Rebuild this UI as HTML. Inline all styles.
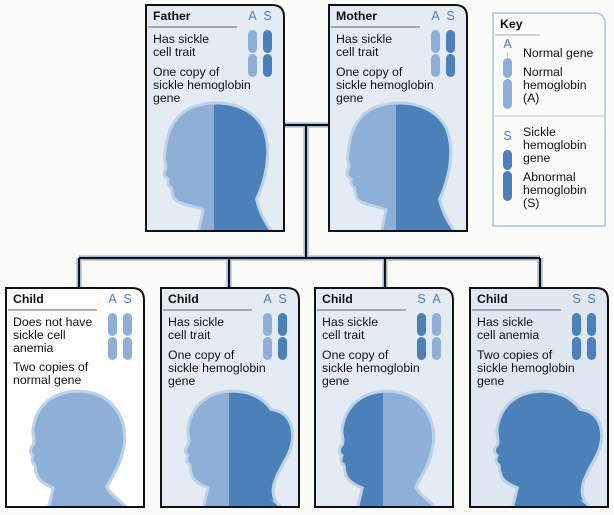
<!DOCTYPE html>
<html><head><meta charset="utf-8"><style>
html,body{margin:0;padding:0;background:#fbfbf7}
svg{display:block}
text{font-family:"Liberation Sans",sans-serif;font-size:12.3px;fill:#111}
.b{font-weight:bold}
.L{fill:#8fb0d6}.D{fill:#4b80b9}
.lt{fill:#4b80b9;font-size:12.5px;text-anchor:middle}
</style></head><body>
<svg width="614" height="515" viewBox="0 0 614 515">
<defs>
<path id="adult" d="M55,228 L60,205 C50,200 40,200 33,196 C27,192 30,185 27,182 C23,180 25,176 25,174 C21,172 19,170 22,166 C24,162 21,158 21,154 C23,140 23,118 45,106 C70,95 105,100 117,125 C127,150 117,180 110,195 C113,210 120,220 125,228 Z"/>
<path id="kid" d="M45,221 L50,200 C40,196 34,192 33,186 C31,182 33,178 30,176 C27,174 29,170 30,168 C26,166 26,162 30,158 C32,150 28,148 30,140 C34,115 55,104 78,106 C105,108 120,130 118,155 C116,175 105,190 100,200 C105,210 115,215 120,221 Z"/>
<path id="tail" d="M100,125 C128,118 140,145 124,172 C114,190 108,202 114,214 C96,206 94,186 100,168 Z"/>
<clipPath id="cA"><path d="M1,1 H127 Q139,1 139,13 V227 H1 Z"/></clipPath>
<clipPath id="cK"><path d="M1,1 H127 Q139,1 139,13 V220 H1 Z"/></clipPath>
</defs>

<g stroke="#bcd2ea" stroke-width="6" fill="none">
<path d="M284,125 H328 M306,125 V258 M79,258 H540 M79,258 V287 M229,258 V287 M385,258 V287 M540,258 V287"/>
</g>
<g stroke="#111" stroke-width="2.2" fill="none">
<path d="M284,125 H328 M306,125 V258 M79,258 H540 M79,258 V287 M229,258 V287 M385,258 V287 M540,258 V287"/>
</g>

<!-- Father -->
<g transform="translate(145,4)">
<path d="M1,1 H127 Q139,1 139,13 V227 H1 Z" fill="#e5ebf3"/>
<g clip-path="url(#cA)">
<use href="#adult" fill="none" stroke="#bcd2ea" stroke-width="6"/>
<clipPath id="fl"><rect x="0" y="0" width="69" height="228"/></clipPath>
<use href="#adult" class="D"/>
<use href="#adult" class="L" clip-path="url(#fl)"/>
</g>
<path d="M1,1 H127 Q139,1 139,13 V227 H1 Z" fill="none" stroke="#111" stroke-width="2"/>
<text x="8" y="16" class="b">Father</text>
<line x1="3" y1="23" x2="92" y2="23" stroke="#666" stroke-width="1"/>
<text x="107.5" y="16" class="lt">A</text><text x="122.5" y="16" class="lt">S</text>
<rect x="103" y="26" width="9" height="23" rx="4.5" class="L"/><rect x="103" y="50" width="9" height="23" rx="4.5" class="L"/>
<rect x="118" y="26" width="9" height="23" rx="4.5" class="D"/><rect x="118" y="50" width="9" height="23" rx="4.5" class="D"/>
<text x="8" y="39">Has sickle</text><text x="8" y="52">cell trait</text>
<text x="8" y="72">One copy of</text><text x="8" y="85">sickle hemoglobin</text><text x="8" y="98">gene</text>
</g>

<!-- Mother -->
<g transform="translate(328,4)">
<path d="M1,1 H127 Q139,1 139,13 V227 H1 Z" fill="#e5ebf3"/>
<g clip-path="url(#cA)">
<use href="#adult" fill="none" stroke="#bcd2ea" stroke-width="6"/>
<clipPath id="ml"><rect x="0" y="0" width="68" height="228"/></clipPath>
<use href="#adult" class="D"/>
<use href="#adult" class="L" clip-path="url(#ml)"/>
</g>
<path d="M1,1 H127 Q139,1 139,13 V227 H1 Z" fill="none" stroke="#111" stroke-width="2"/>
<text x="8" y="16" class="b">Mother</text>
<line x1="3" y1="23" x2="92" y2="23" stroke="#666" stroke-width="1"/>
<text x="107.5" y="16" class="lt">A</text><text x="122.5" y="16" class="lt">S</text>
<rect x="103" y="26" width="9" height="23" rx="4.5" class="L"/><rect x="103" y="50" width="9" height="23" rx="4.5" class="L"/>
<rect x="118" y="26" width="9" height="23" rx="4.5" class="D"/><rect x="118" y="50" width="9" height="23" rx="4.5" class="D"/>
<text x="8" y="39">Has sickle</text><text x="8" y="52">cell trait</text>
<text x="8" y="72">One copy of</text><text x="8" y="85">sickle hemoglobin</text><text x="8" y="98">gene</text>
</g>

<!-- Key -->
<g transform="translate(492,12)">
<path d="M1,1 H102 Q113,1 113,12 V214 H1 Z" fill="#fbfbf7" stroke="#a9c2e0" stroke-width="1.5"/>
<text x="8" y="16" class="b">Key</text>
<line x1="3" y1="23" x2="48" y2="23" stroke="#aaa" stroke-width="1"/>
<text x="15.5" y="36" class="lt">A</text>
<line x1="15.5" y1="40" x2="15.5" y2="47" stroke="#bcd2ea" stroke-width="1"/>
<rect x="11" y="46" width="9" height="20" rx="4.5" class="L"/><rect x="11" y="67" width="9" height="30" rx="4.5" class="L"/>
<text x="31" y="45">Normal gene</text><text x="31" y="64">Normal</text><text x="31" y="77">hemoglobin</text><text x="31" y="90">(A)</text>
<line x1="1" y1="104" x2="113" y2="104" stroke="#cfd8e4" stroke-width="1.2"/>
<text x="15.5" y="128" class="lt">S</text>
<rect x="11" y="138" width="9" height="20" rx="4.5" class="D"/><rect x="11" y="159" width="9" height="30" rx="4.5" class="D"/>
<text x="31" y="124">Sickle</text><text x="31" y="137">hemoglobin</text><text x="31" y="150">gene</text>
<text x="31" y="169">Abnormal</text><text x="31" y="182">hemoglobin</text><text x="31" y="195">(S)</text>
</g>

<!-- Child 1 -->
<g transform="translate(5,287)">
<path d="M1,1 H127 Q139,1 139,13 V220 H1 Z" fill="#fdfdfb"/>
<g clip-path="url(#cK)">
<use href="#kid" fill="none" stroke="#bcd2ea" stroke-width="6"/>
<use href="#kid" class="L"/>
</g>
<path d="M1,1 H127 Q139,1 139,13 V220 H1 Z" fill="none" stroke="#111" stroke-width="2"/>
<text x="8" y="16" class="b">Child</text>
<line x1="3" y1="23" x2="92" y2="23" stroke="#666" stroke-width="1"/>
<text x="107.5" y="16" class="lt">A</text><text x="122.5" y="16" class="lt">S</text>
<rect x="103" y="26" width="9" height="23" rx="4.5" class="L"/><rect x="103" y="50" width="9" height="23" rx="4.5" class="L"/>
<rect x="118" y="26" width="9" height="23" rx="4.5" class="L"/><rect x="118" y="50" width="9" height="23" rx="4.5" class="L"/>
<text x="8" y="39">Does not have</text><text x="8" y="52">sickle cell</text><text x="8" y="65">anemia</text>
<text x="8" y="84">Two copies of</text><text x="8" y="97">normal gene</text>
</g>

<!-- Child 2 -->
<g transform="translate(160,287)">
<path d="M1,1 H127 Q139,1 139,13 V220 H1 Z" fill="#e5ebf3"/>
<g clip-path="url(#cK)">
<use href="#kid" fill="none" stroke="#bcd2ea" stroke-width="6"/>
<use href="#tail" fill="none" stroke="#bcd2ea" stroke-width="6"/>
<clipPath id="k2"><rect x="0" y="0" width="69" height="221"/></clipPath>
<use href="#kid" class="D"/><use href="#tail" class="D"/>
<use href="#kid" class="L" clip-path="url(#k2)"/>
</g>
<path d="M1,1 H127 Q139,1 139,13 V220 H1 Z" fill="none" stroke="#111" stroke-width="2"/>
<text x="8" y="16" class="b">Child</text>
<line x1="3" y1="23" x2="92" y2="23" stroke="#666" stroke-width="1"/>
<text x="107.5" y="16" class="lt">A</text><text x="122.5" y="16" class="lt">S</text>
<rect x="103" y="26" width="9" height="23" rx="4.5" class="L"/><rect x="103" y="50" width="9" height="23" rx="4.5" class="L"/>
<rect x="118" y="26" width="9" height="23" rx="4.5" class="D"/><rect x="118" y="50" width="9" height="23" rx="4.5" class="D"/>
<text x="8" y="39">Has sickle</text><text x="8" y="52">cell trait</text>
<text x="8" y="72">One copy of</text><text x="8" y="85">sickle hemoglobin</text><text x="8" y="98">gene</text>
</g>

<!-- Child 3 -->
<g transform="translate(314,287)">
<path d="M1,1 H127 Q139,1 139,13 V220 H1 Z" fill="#e5ebf3"/>
<g clip-path="url(#cK)">
<use href="#kid" fill="none" stroke="#bcd2ea" stroke-width="6"/>
<clipPath id="k3"><rect x="0" y="0" width="69" height="221"/></clipPath>
<use href="#kid" class="L"/>
<use href="#kid" class="D" clip-path="url(#k3)"/>
</g>
<path d="M1,1 H127 Q139,1 139,13 V220 H1 Z" fill="none" stroke="#111" stroke-width="2"/>
<text x="8" y="16" class="b">Child</text>
<line x1="3" y1="23" x2="92" y2="23" stroke="#666" stroke-width="1"/>
<text x="107.5" y="16" class="lt">S</text><text x="122.5" y="16" class="lt">A</text>
<rect x="103" y="26" width="9" height="23" rx="4.5" class="D"/><rect x="103" y="50" width="9" height="23" rx="4.5" class="D"/>
<rect x="118" y="26" width="9" height="23" rx="4.5" class="L"/><rect x="118" y="50" width="9" height="23" rx="4.5" class="L"/>
<text x="8" y="39">Has sickle</text><text x="8" y="52">cell trait</text>
<text x="8" y="72">One copy of</text><text x="8" y="85">sickle hemoglobin</text><text x="8" y="98">gene</text>
</g>

<!-- Child 4 -->
<g transform="translate(469,287)">
<path d="M1,1 H127 Q139,1 139,13 V220 H1 Z" fill="#dfe7f1"/>
<g clip-path="url(#cK)">
<use href="#kid" fill="none" stroke="#bcd2ea" stroke-width="6"/>
<use href="#tail" fill="none" stroke="#bcd2ea" stroke-width="6"/>
<use href="#kid" class="D"/><use href="#tail" class="D"/>
</g>
<path d="M1,1 H127 Q139,1 139,13 V220 H1 Z" fill="none" stroke="#111" stroke-width="2"/>
<text x="8" y="16" class="b">Child</text>
<line x1="3" y1="23" x2="92" y2="23" stroke="#666" stroke-width="1"/>
<text x="107.5" y="16" class="lt">S</text><text x="122.5" y="16" class="lt">S</text>
<rect x="103" y="26" width="9" height="23" rx="4.5" class="D"/><rect x="103" y="50" width="9" height="23" rx="4.5" class="D"/>
<rect x="118" y="26" width="9" height="23" rx="4.5" class="D"/><rect x="118" y="50" width="9" height="23" rx="4.5" class="D"/>
<text x="8" y="39">Has sickle</text><text x="8" y="52">cell anemia</text>
<text x="8" y="72">Two copies of</text><text x="8" y="85">sickle hemoglobin</text><text x="8" y="98">gene</text>
</g>
</svg>
</body></html>
